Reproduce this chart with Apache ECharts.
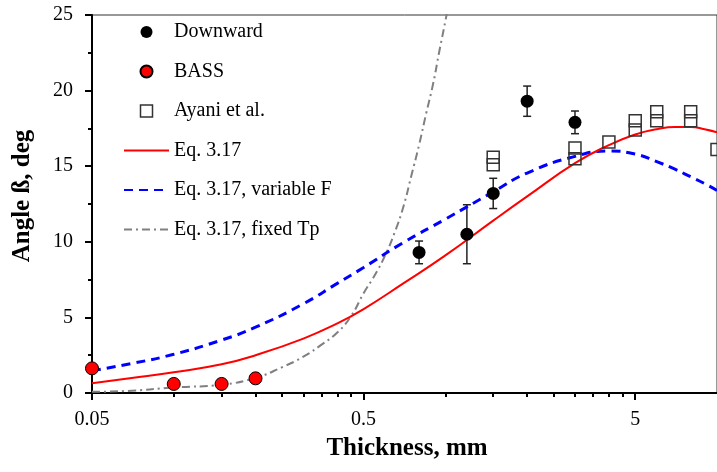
<!DOCTYPE html>
<html>
<head>
<meta charset="utf-8">
<script src="https://cdn.jsdelivr.net/npm/echarts@6/dist/echarts.min.js"></script>
<style>
html, body { margin: 0; padding: 0; background: #fff; }
#chart { width: 717px; height: 472px; }
</style>
</head>
<body>
<div id="chart"></div>
<script>
// thickness (mm) grid for the model curves
var curveX = [0.05, 0.07, 0.1, 0.15, 0.2, 0.3, 0.4, 0.5, 0.7, 1, 1.5, 2, 3, 4, 5, 6, 7, 8, 9, 10];
var eqY = [0.65, 0.99, 1.37, 1.9, 2.5, 3.6, 4.6, 5.55, 7.25, 9.1, 11.4, 13.0, 15.2, 16.4, 17.1, 17.45, 17.6, 17.6, 17.45, 17.25];
var varFY = [1.48, 1.95, 2.56, 3.5, 4.35, 5.9, 7.25, 8.3, 9.95, 11.5, 13.3, 14.55, 15.65, 16.0, 15.8, 15.3, 14.8, 14.3, 13.85, 13.4];

var fixedTpX = [0.05, 0.07, 0.1, 0.15, 0.2, 0.25, 0.3, 0.35, 0.4, 0.45, 0.5, 0.55, 0.6, 0.65, 0.7, 0.75, 0.8, 0.85, 0.9, 0.95, 1.0, 1.1];
var fixedTpY = [0.08, 0.15, 0.37, 0.55, 1.0, 1.7, 2.4, 3.2, 4.0, 5.1, 6.6, 7.8, 9.1, 10.6, 12.3, 14.4, 16.4, 18.5, 20.4, 22.6, 24.6, 28.5];

var downX = [0.8, 1.2, 1.5, 2, 3];
var downY = [9.3, 10.5, 13.2, 19.3, 17.9];
var downErr = [0.75, 1.95, 1.0, 1.0, 0.75];

var bassX = [0.05, 0.1, 0.15, 0.2];
var bassY = [1.63, 0.6, 0.6, 0.97];

var ayaniX = [1.5, 1.5, 3, 3, 4, 5, 5, 6, 6, 8, 8, 10];
var ayaniY = [15.6, 15.1, 16.2, 15.5, 16.6, 18.0, 17.4, 18.6, 18.0, 18.6, 18.0, 16.1];

var xLabels = [0.05, 0.5, 5];
var xMinor = [0.1, 0.15, 0.2, 0.25, 0.3, 0.35, 0.4, 0.45, 1, 1.5, 2, 2.5, 3, 3.5, 4, 4.5];

function zip(a, b){
	var out = [];
	for (var i = 0; i < a.length; i++) out.push([a[i], b[i]]);
	return out;
}

var serif = 'Liberation Serif';
var chart = echarts.init(document.getElementById('chart'));

var errData = [];
for (var i = 0; i < downX.length; i++) {
	errData.push([downX[i], downY[i] - downErr[i], downY[i] + downErr[i]]);
}

var noSym = { opacity: 0 };

var option = {
	animation: false,
	grid: {
		left: 92, right: -5, top: 15, bottom: 79,
		show: true, borderColor: '#333', borderWidth: 1, backgroundColor: 'transparent'
	},
	legend: {
		orient: 'vertical',
		left: 123, top: 22, padding: 0,
		itemWidth: 45, itemHeight: 12, itemGap: 19.5,
		symbolKeepAspect: true,
		textStyle: { fontFamily: serif, fontSize: 20, color: '#000' },
		data: [
			'Downward', 'BASS',
			{ name: 'Ayani et al.', icon: 'path://M0,0L10,0L10,10L0,10Z',
				itemStyle: { color: 'rgba(255,255,255,0)', borderColor: '#333', borderWidth: 1.5 } },
			{ name: 'Eq. 3.17', itemStyle: noSym },
			{ name: 'Eq. 3.17, variable F', itemStyle: noSym },
			{ name: 'Eq. 3.17, fixed Tp', itemStyle: noSym }
		]
	},
	xAxis: [{
		type: 'log', logBase: 10, min: 0.05, max: 10,
		axisLine: { lineStyle: { color: '#000', width: 2 } },
		axisTick: { show: true, inside: false, length: 4, customValues: xMinor, lineStyle: { color: '#000', width: 2 } },
		axisLabel: { show: false },
		minorTick: { show: false },
		splitLine: { show: false }
	}, {
		type: 'log', logBase: 10, min: 0.05, max: 10, position: 'bottom',
		axisLine: { show: false },
		axisTick: { show: true, inside: false, length: 7, customValues: xLabels, lineStyle: { color: '#000', width: 2 } },
		axisLabel: {
			customValues: xLabels, margin: 17,
			fontFamily: serif, fontSize: 20, color: '#000',
			formatter: function(v){ return String(+(+v).toPrecision(3)); }
		},
		splitLine: { show: false }
	}],
	yAxis: {
		type: 'value', min: 0, max: 25, interval: 5,
		axisLine: { show: true, lineStyle: { color: '#000', width: 2 } },
		axisTick: { show: true, inside: false, length: 7, lineStyle: { color: '#000', width: 2 } },
		minorTick: { show: true, splitNumber: 2, length: 4, lineStyle: { color: '#000', width: 2 } },
		axisLabel: { margin: 19, fontFamily: serif, fontSize: 20, color: '#000' },
		splitLine: { show: false }
	},
	graphic: [{
		type: 'text', x: 407, y: 449,
		style: { text: 'Thickness, mm', x: 0, y: 0, font: 'bold 25px "Liberation Serif"', fill: '#000', textAlign: 'center', textVerticalAlign: 'middle' }
	}, {
		type: 'text', x: 23, y: 196, rotation: Math.PI / 2,
		style: { text: 'Angle ß, deg', x: 0, y: 0, font: 'bold 25px "Liberation Serif"', fill: '#000', textAlign: 'center', textVerticalAlign: 'middle' }
	}],
	series: [{
		name: 'Eq. 3.17, fixed Tp', type: 'line', smooth: true, symbol: 'none',
		data: zip(fixedTpX, fixedTpY),
		lineStyle: { color: '#808080', width: 2, type: [8, 4, 2, 4] },
		itemStyle: { color: '#808080' }
	}, {
		name: 'Eq. 3.17, variable F', type: 'line', smooth: true, symbol: 'none',
		data: zip(curveX, varFY),
		lineStyle: { color: '#0000ff', width: 3, type: [9, 6] },
		itemStyle: { color: '#0000ff' }
	}, {
		name: 'Eq. 3.17', type: 'line', smooth: true, symbol: 'none',
		data: zip(curveX, eqY),
		lineStyle: { color: '#ff0000', width: 2 },
		itemStyle: { color: '#ff0000' }
	}, {
		name: 'errbars', type: 'custom',
		data: errData,
		renderItem: function(params, api){
			var x = api.value(0);
			var lo = api.coord([x, api.value(1)]);
			var hi = api.coord([x, api.value(2)]);
			var w = 4;
			var st = { stroke: '#222', lineWidth: 1.5 };
			return { type: 'group', children: [
				{ type: 'line', shape: { x1: lo[0], y1: lo[1], x2: hi[0], y2: hi[1] }, style: st },
				{ type: 'line', shape: { x1: lo[0] - w, y1: lo[1], x2: lo[0] + w, y2: lo[1] }, style: st },
				{ type: 'line', shape: { x1: hi[0] - w, y1: hi[1], x2: hi[0] + w, y2: hi[1] }, style: st }
			] };
		},
		z: 3
	}, {
		name: 'Ayani et al.', type: 'scatter', symbol: 'rect', symbolSize: 12, clip: false,
		symbolKeepAspect: true,
		data: zip(ayaniX, ayaniY),
		itemStyle: { color: 'rgba(255,255,255,0)', borderColor: '#333', borderWidth: 1.5, opacity: 1 },
		z: 4
	}, {
		name: 'Downward', type: 'scatter', symbol: 'circle', symbolSize: 13,
		data: zip(downX, downY),
		itemStyle: { color: '#000', opacity: 1 },
		z: 5
	}, {
		name: 'BASS', type: 'scatter', symbol: 'circle', symbolSize: 13, clip: false,
		data: zip(bassX, bassY),
		itemStyle: { color: '#ff0000', borderColor: '#000', borderWidth: 1, opacity: 1 },
		z: 5
	}]
};
chart.setOption(option);
</script>
</body>
</html>
